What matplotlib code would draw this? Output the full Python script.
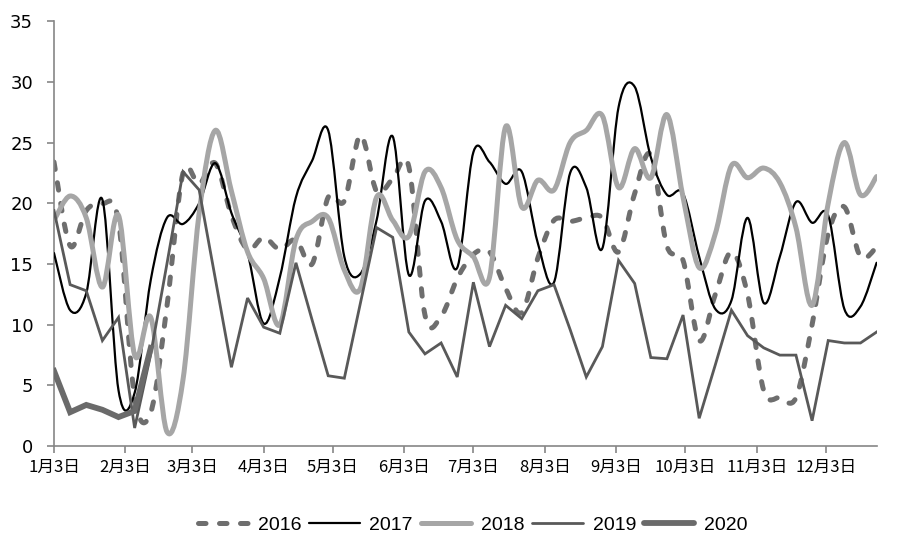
import matplotlib
matplotlib.use('Agg')
import matplotlib.pyplot as plt
import matplotlib.dates as mdates
from matplotlib.path import Path
from matplotlib.patches import PathPatch
from matplotlib.lines import Line2D
import numpy as np
import pandas as pd

# weekly points, axis laid out on 2016 calendar
weeks = pd.date_range('2016-01-03', periods=52, freq='7D')
tick_dates = [pd.Timestamp(2016, m, 3) for m in range(1, 13)]
tick_labels = [f'{m}月3日' for m in range(1, 13)]

y2016 = [23.4, 16.5, 19.4, 20.0, 18.5, 4.0, 2.8, 11.5, 22.5, 21.6, 23.3, 19.0, 16.2,
         17.2, 16.2, 17.0, 15.0, 20.5, 20.2, 25.6, 21.0, 22.0, 23.0, 10.8, 10.7, 13.8,
         15.8, 16.0, 13.0, 11.0, 15.5, 18.6, 18.5, 18.8, 18.8, 16.0, 20.8, 24.0, 16.5,
         15.3, 8.7, 12.5, 16.0, 12.5, 4.6, 4.0, 4.0, 10.0, 17.5, 19.7, 15.6, 16.4]
y2017 = [15.9, 11.2, 12.6, 20.3, 4.6, 4.4, 13.7, 18.8, 18.3, 20.0, 23.3, 19.2, 15.9,
         10.1, 13.9, 20.5, 23.5, 26.0, 15.6, 14.2, 18.6, 25.5, 14.1, 20.2, 18.5, 14.7,
         24.2, 23.4, 21.6, 22.6, 16.7, 13.5, 22.5, 21.3, 16.3, 27.9, 29.6, 23.8, 20.7,
         20.8, 15.6, 11.3, 12.0, 18.8, 11.8, 15.6, 20.1, 18.4, 19.0, 11.3, 11.5, 15.1]
y2018 = [18.6, 20.6, 18.8, 13.1, 19.0, 7.5, 10.6, 1.2, 5.5, 19.2, 26.0, 21.0, 16.0,
         13.8, 10.0, 17.0, 18.5, 18.8, 14.5, 13.0, 20.5, 18.6, 17.3, 22.6, 21.3, 17.0,
         15.6, 13.9, 26.3, 19.7, 21.9, 21.1, 25.0, 26.0, 27.2, 21.3, 24.5, 22.1, 27.3,
         20.5, 14.7, 17.5, 23.1, 22.1, 22.9, 21.7, 18.0, 11.6, 20.0, 25.0, 20.7, 22.2]
y2019 = [19.4, 13.3, 12.8, 8.7, 10.6, 1.5, 7.6, 15.0, 22.6, 21.1, 13.8, 6.5, 12.2,
         9.8, 9.3, 15.1, 10.4, 5.8, 5.6, 11.8, 18.0, 17.2, 9.4, 7.6, 8.5, 5.7,
         13.5, 8.2, 11.6, 10.5, 12.8, 13.3, 9.6, 5.7, 8.2, 15.3, 13.4, 7.3, 7.2,
         10.8, 2.3, 6.7, 11.2, 9.1, 8.1, 7.5, 7.5, 2.1, 8.7, 8.5, 8.5, 9.4]
y2020 = [6.2, 2.8, 3.4, 3.0, 2.4, 2.9, 8.1]


def smooth_path(x, y):
    # excel style smoothed line: cubic bezier through every point
    pts = np.column_stack([x, y])
    n = len(pts)
    verts = [pts[0]]
    codes = [Path.MOVETO]
    for i in range(n - 1):
        p0 = pts[max(i - 1, 0)]
        p1 = pts[i]
        p2 = pts[i + 1]
        p3 = pts[min(i + 2, n - 1)]
        verts += [p1 + (p2 - p0) / 6, p2 - (p3 - p1) / 6, p2]
        codes += [Path.CURVE4] * 3
    return Path(verts, codes)


series = [
    ('2016', y2016, '#6e6e6e', 3.6, (0, (1.5, 2.7)), True),
    ('2017', y2017, '#000000', 1.6, '-', True),
    ('2018', y2018, '#a6a6a6', 3.6, '-', True),
    ('2019', y2019, '#595959', 2.0, '-', False),
    ('2020', y2020, '#6a6a6a', 4.2, '-', False),
]

fig = plt.figure(figsize=(9, 5.55), dpi=100)
ax = fig.add_axes([0.06, 0.196, 0.914, 0.766])

xnum = mdates.date2num(weeks.to_pydatetime())
handles = []
for i, (name, vals, col, lw, ls, smooth) in enumerate(series):
    xs = xnum[:len(vals)]
    if smooth:
        patch = PathPatch(smooth_path(xs, vals), facecolor='none', edgecolor=col,
                          lw=lw, linestyle=ls, capstyle='round', joinstyle='round',
                          zorder=2 + i)
        ax.add_patch(patch)
    else:
        ax.plot(xs, vals, color=col, lw=lw, solid_joinstyle='miter', zorder=2 + i)
    handles.append(Line2D([], [], color=col, lw=lw, linestyle=ls,
                          dash_capstyle='round', solid_capstyle='round', label=name))

ax.set_xlim(xnum[0], xnum[-1])
ax.set_ylim(0, 35)
ax.set_yticks(range(0, 36, 5))
ax.set_xticks(mdates.date2num(tick_dates))
ax.set_xticklabels(tick_labels, family=['Noto Sans CJK SC', 'DejaVu Sans'], fontsize=12)
for lab in ax.get_yticklabels():
    lab.set_fontsize(13)

for s in ['top', 'right']:
    ax.spines[s].set_visible(False)
for s in ['left', 'bottom']:
    ax.spines[s].set_color('#868686')
    ax.spines[s].set_linewidth(1.2)
ax.tick_params(axis='both', direction='out', length=5, color='#868686', width=1.2)
ax.tick_params(axis='x', pad=4)
ax.tick_params(axis='y', pad=10)

fig.legend(handles=handles, loc='center', bbox_to_anchor=(0.525, 0.054), ncol=5,
           frameon=False, handlelength=2.6, handletextpad=0.5, columnspacing=0.4,
           prop={'family': ['Liberation Sans', 'DejaVu Sans'], 'size': 14})

fig.savefig('out.png', dpi=100)
